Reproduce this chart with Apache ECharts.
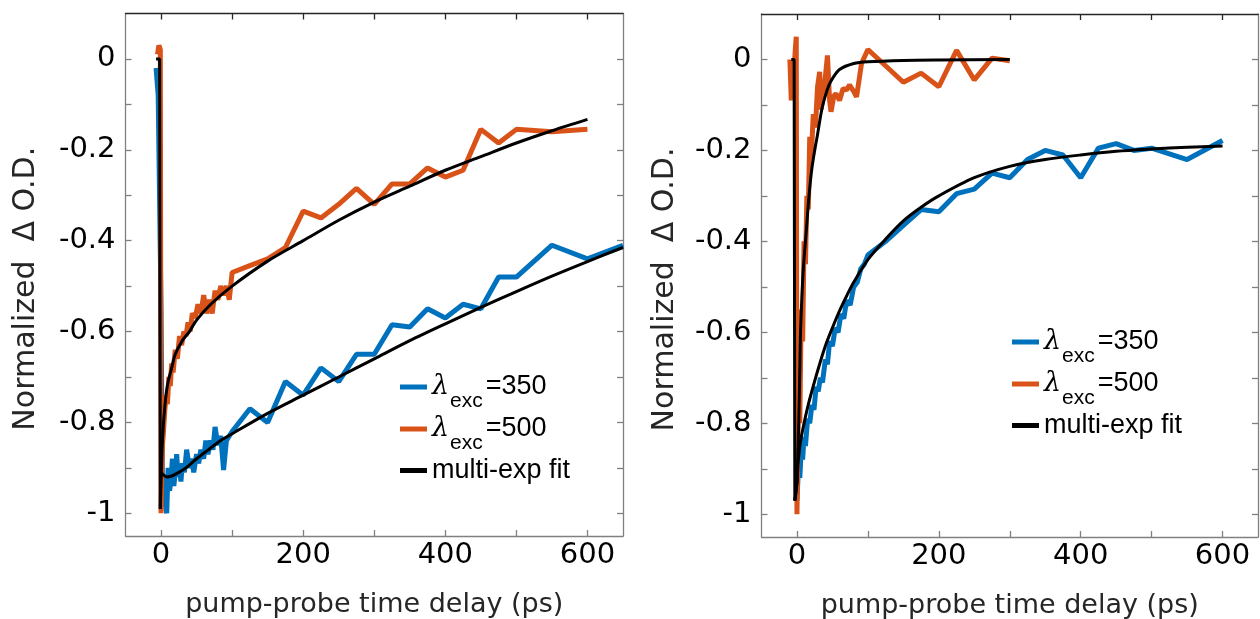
<!DOCTYPE html>
<html><head><meta charset="utf-8">
<script src="https://cdn.jsdelivr.net/npm/echarts@6/dist/echarts.min.js"></script>
<style>html,body{margin:0;padding:0;background:#fff}#c{width:1260px;height:619px}</style>
</head><body><div id="c"></div>
<script>
// ---- tick labels ----
const xTickLabels = [0, 200, 400, 600];
const xTickMarks = [0, 100, 200, 300, 400, 500, 600];
const yTickLabels = [0, -0.2, -0.4, -0.6, -0.8, -1];
const yTickMarks = [0, -0.1, -0.2, -0.3, -0.4, -0.5, -0.6, -0.7, -0.8, -0.9, -1];
const seriesNames = ['λexc=350', 'λexc=500', 'multi-exp fit'];

// ---- left panel data ----
const tL350 = [-7,-6,-5,-4,0,2,4,6,8,10,12,14,16,18,20,22,24,26,28,30,33,36,40,43,46,50,53,56,60,63,66,70,73,76,80,84,88,92,96,100,125,150,175,200,225,250,275,300,325,350,375,400,425,450,475,500,550,600,650];
const vL350 = [-0.02,-0.04,-0.06,-0.08,-0.55,-0.96,-0.92,-0.98,-1.0,-0.9,-0.95,-0.93,-0.88,-0.94,-0.91,-0.87,-0.92,-0.9,-0.93,-0.89,-0.91,-0.86,-0.9,-0.88,-0.91,-0.87,-0.89,-0.86,-0.88,-0.84,-0.87,-0.84,-0.86,-0.81,-0.85,-0.83,-0.905,-0.84,-0.83,-0.82,-0.77,-0.80,-0.71,-0.74,-0.68,-0.71,-0.65,-0.65,-0.585,-0.59,-0.55,-0.57,-0.54,-0.55,-0.48,-0.48,-0.41,-0.44,-0.41];
const tL500 = [-5,-3,-1,0,1,2,3,5,7,9,11,13,15,17,20,23,26,29,32,35,38,41,44,48,52,56,60,64,68,72,76,80,84,88,92,96,100,125,150,175,200,225,250,275,300,325,350,375,400,425,450,475,500,550,600];
const vL500 = [0.01,0.03,0.02,-1.0,-0.92,-0.85,-0.83,-0.78,-0.74,-0.76,-0.7,-0.72,-0.67,-0.69,-0.64,-0.66,-0.61,-0.63,-0.6,-0.61,-0.58,-0.6,-0.56,-0.57,-0.54,-0.56,-0.52,-0.56,-0.53,-0.56,-0.51,-0.53,-0.5,-0.52,-0.5,-0.53,-0.47,-0.455,-0.44,-0.415,-0.335,-0.35,-0.32,-0.285,-0.32,-0.275,-0.275,-0.24,-0.26,-0.245,-0.155,-0.185,-0.155,-0.16,-0.155];
const tLfitStep = [-7,-2,-1];
const vLfitStep = [0,0,-0.99];
const tLfit500 = [-1,1,2,4,7,10,15,20,30,40,50,70,100,150,200,250,300,350,400,450,500,550,600];
const vLfit500 = [-0.99,-0.88,-0.84,-0.79,-0.74,-0.71,-0.68,-0.65,-0.62,-0.6,-0.575,-0.54,-0.5,-0.445,-0.4,-0.355,-0.315,-0.28,-0.245,-0.215,-0.185,-0.158,-0.133];
const tLfit350 = [-1,0,3,8,15,25,35,50,65,84,100,150,200,250,300,350,400,450,500,550,600,650];
const vLfit350 = [-0.99,-0.91,-0.915,-0.92,-0.918,-0.91,-0.9,-0.88,-0.862,-0.84,-0.825,-0.78,-0.74,-0.70,-0.66,-0.62,-0.583,-0.547,-0.512,-0.478,-0.446,-0.415];

// ---- right panel data ----
const tR350 = [-5,-2,0,2,4,6,8,10,12,15,18,21,24,27,30,33,36,40,43,46,50,54,58,62,66,70,75,80,85,90,95,100,125,150,175,200,225,250,275,300,325,350,375,400,425,450,475,500,550,600];
const vR350 = [0.0,-0.01,-0.97,-0.9,-0.92,-0.86,-0.88,-0.83,-0.85,-0.79,-0.8,-0.76,-0.77,-0.72,-0.73,-0.7,-0.71,-0.66,-0.67,-0.62,-0.63,-0.59,-0.6,-0.56,-0.57,-0.53,-0.54,-0.5,-0.49,-0.46,-0.45,-0.43,-0.40,-0.365,-0.33,-0.335,-0.295,-0.285,-0.25,-0.26,-0.22,-0.2,-0.21,-0.26,-0.195,-0.185,-0.2,-0.195,-0.22,-0.178];
const tR500 = [-10,-8,-6,-4,-2,-1,0,2,4,6,8,10,12,14,16,18,20,23,26,29,32,34,38,43,46,48,52,55,60,65,70,74,80,84,91,100,150,175,200,225,250,275,300];
const vR500 = [0.0,-0.09,0.0,-0.02,0.03,0.05,-1.0,-0.75,-0.8,-0.55,-0.62,-0.4,-0.45,-0.3,-0.33,-0.17,-0.22,-0.12,-0.15,-0.06,-0.027,-0.11,-0.07,0.009,-0.09,-0.115,-0.08,-0.075,-0.09,-0.064,-0.067,-0.056,-0.07,-0.082,-0.009,0.022,-0.05,-0.03,-0.06,0.02,-0.045,0.003,-0.003];
const tRfitStep = [-8,-4,-3];
const vRfitStep = [0,0,-0.97];
const tRfit500 = [-3,0,1,2.5,4,5,7,9,13,17,21,25,29,35,40,45,50,60,80,100,150,200,300];
const vRfit500 = [-0.97,-0.93,-0.88,-0.8,-0.68,-0.6,-0.52,-0.46,-0.38,-0.3,-0.24,-0.2,-0.165,-0.11,-0.08,-0.057,-0.042,-0.022,-0.009,-0.005,-0.002,-0.001,0];
const tRfit350 = [-3,0,2,5,10,15,20,30,40,50,60,70,80,100,125,150,175,200,250,300,350,400,450,500,550,600];
const vRfit350 = [-0.97,-0.93,-0.88,-0.84,-0.8,-0.765,-0.735,-0.68,-0.63,-0.59,-0.553,-0.52,-0.49,-0.44,-0.395,-0.355,-0.325,-0.3,-0.26,-0.235,-0.22,-0.21,-0.202,-0.197,-0.193,-0.19];

const BLUE = '#0072BD', ORANGE = '#D95319', BLACK = '#000000';
const zip = (t, v) => t.map((x, i) => [x, v[i]]);

function xAxes(g) {
  const base = {
    type: 'value', gridIndex: g, min: -50, max: 650,
    splitLine: { show: false },
    axisLine: { show: true, onZero: false, lineStyle: { color: '#808080', width: 1.3 } },
    axisTick: { show: true, inside: true, length: 6, customValues: xTickMarks, lineStyle: { color: '#808080', width: 1.3 } }
  };
  return [
    Object.assign({}, base, {
      position: 'bottom',
      axisLabel: { customValues: xTickLabels, fontSize: 29, fontFamily: 'DejaVu Sans', color: '#000', margin: 5 },
      name: 'pump-probe time delay (ps)', nameLocation: 'middle', nameGap: 55,
      nameTextStyle: { fontSize: 27, fontFamily: 'DejaVu Sans', color: '#262626' }
    }),
    Object.assign({}, base, {
      position: 'top', axisLabel: { show: false },
      axisLine: { show: true, onZero: false, lineStyle: { color: '#262626', width: 1.3 } },
      axisTick: { show: true, inside: true, length: 6, customValues: xTickMarks, lineStyle: { color: '#262626', width: 1.3 } }
    })
  ];
}
function yAxes(g, gap) {
  const base = {
    type: 'value', gridIndex: g, min: -1.05, max: 0.1,
    splitLine: { show: false },
    axisLine: { show: true, onZero: false, lineStyle: { color: '#808080', width: 1.3 } },
    axisTick: { show: true, inside: true, length: 6, customValues: yTickMarks, lineStyle: { color: '#808080', width: 1.3 } }
  };
  return [
    Object.assign({}, base, {
      position: 'left',
      axisLabel: { customValues: yTickLabels, fontSize: 29, fontFamily: 'DejaVu Sans', color: '#000', margin: 10,
        formatter: v => String(Math.round(v * 10) / 10) },
      name: 'Normalized  Δ O.D.', nameLocation: 'middle', nameGap: gap,
      nameTextStyle: { fontSize: 30, fontFamily: 'DejaVu Sans', color: '#262626', padding: [0, 28, 0, 0] }
    }),
    Object.assign({}, base, { position: 'right', axisLabel: { show: false } })
  ];
}

function line(name, data, color, width, xi, yi, smooth) {
  return {
    type: 'line', name: name, data: data, xAxisIndex: xi, yAxisIndex: yi,
    showSymbol: false, symbol: 'none', smooth: smooth || false, clip: true,
    lineStyle: { color: color, width: width }, itemStyle: { color: color },
    emphasis: { disabled: true }, animation: false
  };
}

const rich = {
  l: { fontSize: 27, fontFamily: 'DejaVu Serif', fontStyle: 'italic', lineHeight: 28, verticalAlign: 'top', color: '#000' },
  s: { fontSize: 21, fontFamily: 'Liberation Sans', lineHeight: 22, padding: [18, 3, 0, 1], verticalAlign: 'top', color: '#000' },
  n: { fontSize: 27, fontFamily: 'Liberation Sans', lineHeight: 28, verticalAlign: 'top', color: '#000' },
  m: { fontSize: 27, fontFamily: 'Liberation Sans', lineHeight: 30, color: '#000' }
};
function legendFmt(name) {
  if (name === seriesNames[0]) return '{l|λ}{s|exc}{n|=350}';
  if (name === seriesNames[1]) return '{l|λ}{s|exc}{n|=500}';
  return '{m|' + name + '}';
}
function legend(left, top) {
  return {
    left: left, top: top, orient: 'vertical', itemWidth: 27, itemHeight: 5, itemGap: 3,
    data: seriesNames.map(n => ({ name: n, icon: 'rect' })),
    formatter: legendFmt, textStyle: { rich: rich, color: '#000' },
    selectedMode: false, padding: 0
  };
}

const option = {
  backgroundColor: '#ffffff',
  animation: false,
  grid: [
    { left: 125.5, top: 13.5, width: 497.5, height: 522.5, outerBoundsMode: 'none', containLabel: false },
    { left: 761.5, top: 14, width: 496.5, height: 523, outerBoundsMode: 'none', containLabel: false }
  ],
  xAxis: xAxes(0).concat(xAxes(1)),
  yAxis: yAxes(0, 84).concat(yAxes(1, 81)),
  legend: [legend(400, 373), legend(1012, 328)],
  series: [
    line(seriesNames[0], zip(tL350, vL350), BLUE, 5, 0, 0),
    line(seriesNames[1], zip(tL500, vL500), ORANGE, 5, 0, 0),
    line(seriesNames[2], zip(tLfitStep, vLfitStep), BLACK, 3, 0, 0),
    line(seriesNames[2], zip(tLfit500, vLfit500), BLACK, 3, 0, 0, 0.3),
    line(seriesNames[2], zip(tLfit350, vLfit350), BLACK, 3, 0, 0, 0.3),
    line(seriesNames[0], zip(tR350, vR350), BLUE, 5, 2, 2),
    line(seriesNames[1], zip(tR500, vR500), ORANGE, 5, 2, 2),
    line(seriesNames[2], zip(tRfitStep, vRfitStep), BLACK, 3, 2, 2),
    line(seriesNames[2], zip(tRfit500, vRfit500), BLACK, 3, 2, 2, 0.3),
    line(seriesNames[2], zip(tRfit350, vRfit350), BLACK, 3, 2, 2, 0.3)
  ]
};
const chart = echarts.init(document.getElementById('c'), null, { renderer: 'canvas' });
chart.setOption(option);
</script>
</body></html>
